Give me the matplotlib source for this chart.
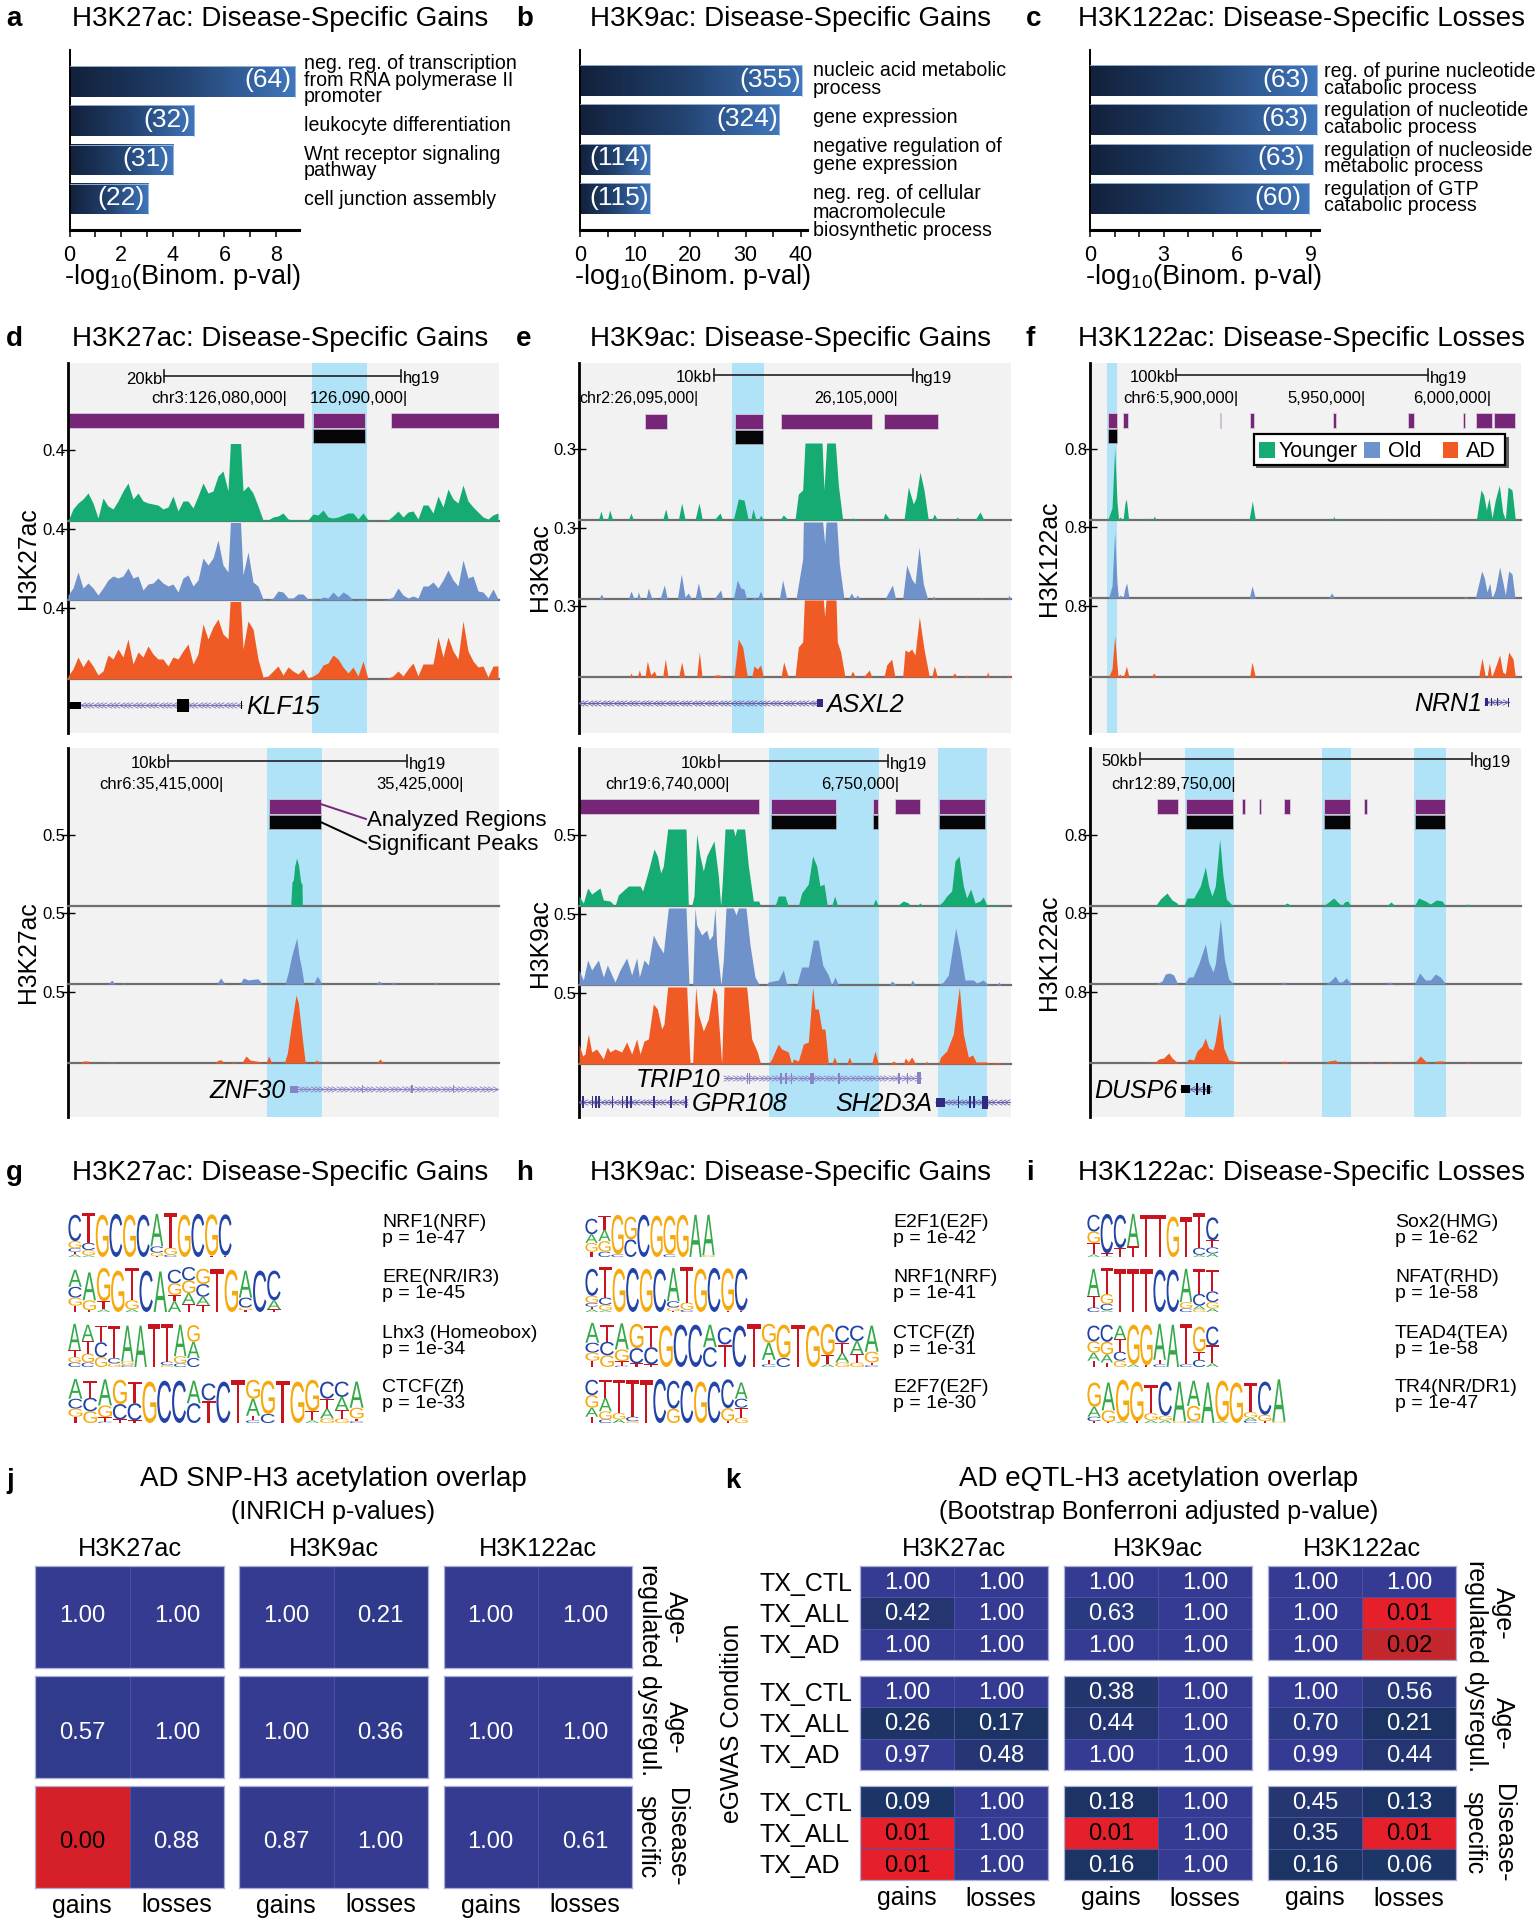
# -*- coding: utf-8 -*-
"""
Multi panel figure: GO bars, browser tracks, motif logos and overlap heatmaps.
Browser x positions are kept in track units (1 unit = 1/3 pixel).
"""
import numpy as np
import matplotlib
matplotlib.use("Agg")
import matplotlib.pyplot as plt
from matplotlib.colors import LinearSegmentedColormap, Normalize
from matplotlib.font_manager import FontProperties
from matplotlib.patches import Rectangle, PathPatch
from matplotlib.path import Path
from matplotlib.textpath import TextPath

plt.rcParams['font.family'] = ['Liberation Sans', 'DejaVu Sans']
plt.rcParams['mathtext.default'] = 'regular'

W, H = 1535, 1920

# --- panels a-c
a_vals = [8.73, 4.82, 4.0, 3.03]
a_counts = ['(64)', '(32)', '(31)', '(22)']
b_vals = [40.2, 36.1, 12.6, 12.6]
b_counts = ['(355)', '(324)', '(114)', '(115)']
c_vals = [9.25, 9.23, 9.07, 8.94]
c_counts = ['(63)', '(63)', '(63)', '(60)']
a_terms = [('neg. reg. of transcription\nfrom RNA polymerase II\npromoter', 79.5),
           ('leukocyte differentiation', 125), ('Wnt receptor signaling\npathway', 162),
           ('cell junction assembly', 199)]
b_terms = [('nucleic acid metabolic\nprocess', 79), ('gene expression', 117),
           ('negative regulation of\ngene expression', 155),
           ('neg. reg. of cellular\nmacromolecule\nbiosynthetic process', 211.5)]
c_terms = [('reg. of purine nucleotide\ncatabolic process', 79.5),
           ('regulation of nucleotide\ncatabolic process', 118.5),
           ('regulation of nucleoside\nmetabolic process', 158),
           ('regulation of GTP\ncatabolic process', 197)]

# --- panel d, top locus (one value every 15 track units from 204), tall values are clipped by the track
d1_green = [0, 12, 18, 22, 28, 18, 3, 23, 15, 12, 20, 30, 38, 22, 28, 20, 18, 17, 16, 12, 14, 25, 10, 20, 20, 13, 25,
            38, 28, 30, 45, 50, 30, 130, 130, 30, 35, 28, 15, 1, 1, 4, 5, 8, 2, 1, 1, 1, 1, 7, 6, 11, 4, 3, 4, 6, 8, 8,
            2, 8, 1, 0, 0, 0, 1, 5, 10, 4, 9, 10, 2, 16, 16, 8, 25, 14, 32, 22, 18, 36, 20, 14, 9, 4, 2, 6, 8]
d1_blue = [5, 12, 28, 12, 17, 12, 5, 12, 20, 24, 22, 24, 32, 22, 24, 10, 16, 17, 22, 17, 14, 16, 8, 22, 25, 14, 20,
           42, 35, 42, 60, 35, 28, 130, 130, 25, 48, 18, 14, 1, 0, 2, 9, 8, 2, 2, 6, 6, 1, 1, 0, 3, 2, 8, 3, 8, 5, 0,
           0, 1, 0, 0, 0, 0, 1, 3, 12, 5, 2, 4, 2, 14, 14, 18, 12, 20, 30, 20, 14, 40, 22, 24, 9, 8, 2, 11, 1]
d1_orange = [3, 10, 22, 12, 20, 13, 4, 8, 24, 20, 30, 22, 40, 15, 27, 22, 33, 25, 20, 20, 13, 22, 20, 28, 35, 15, 25,
             55, 40, 52, 60, 45, 40, 130, 130, 30, 58, 50, 20, 2, 3, 8, 13, 4, 12, 8, 5, 10, 1, 3, 6, 14, 16, 24, 20,
             12, 6, 12, 3, 18, 0, 0, 0, 0, 1, 3, 8, 3, 10, 16, 3, 15, 15, 15, 42, 22, 42, 28, 20, 58, 28, 18, 12, 13,
             2, 13, 13]

# --- panel d, bottom locus (position, height)
d2_green = [(872, 0), (876, 24), (880, 26), (884, 40), (890, 48), (896, 40), (902, 24), (906, 22), (907, 0)]
d2_blue = [(325, 0), (335, 4), (345, 0), (366, 0), (369, 1.5), (372, 0), (650, 0), (662, 6), (675, 0), (720, 0),
           (730, 6), (745, 4), (765, 5), (775, 5), (787, 0), (855, 0), (865, 12), (875, 28), (890, 46), (897, 28),
           (905, 15), (912, 0), (940, 0), (952, 8), (962, 2), (965, 0), (1127, 0), (1137, 3), (1147, 0), (1172, 0),
           (1180, 2), (1188, 0), (1300, 0), (1307, 2), (1314, 0)]
d2_orange = [(240, 0), (250, 2), (265, 2), (270, 0), (328, 0), (335, 1), (342, 0), (645, 0), (655, 3), (665, 3),
             (670, 0), (692, 0), (698, 2), (705, 0), (725, 0), (738, 7), (750, 3), (785, 1), (786, 0), (798, 0),
             (806, 7), (815, 0), (853, 0), (862, 10), (875, 40), (888, 68), (895, 60), (905, 30), (915, 2), (918, 0),
             (940, 0), (950, 3), (960, 0), (1130, 0), (1140, 4), (1150, 0)]

# --- panel e
e1_green = [(235, 0), (243, 9), (250, 0), (262, 0), (269, 10), (278, 0), (325, 0), (333, 7), (340, 0), (428, 0),
            (437, 11), (445, 0), (475, 0), (485, 17), (495, 1), (508, 0), (525, 0), (537, 17), (547, 0), (580, 0),
            (590, 3), (600, 7), (608, 0), (640, 0), (655, 21), (672, 20), (685, 0), (692, 0), (699, 11), (708, 0),
            (716, 0), (722, 5), (730, 0), (780, 0), (790, 5), (805, 0), (825, 0), (835, 26), (848, 30), (855, 77),
            (906, 77), (912, 30), (920, 77), (946, 77), (955, 35), (968, 0), (992, 0), (998, 2), (1015, 0), (1088, 0),
            (1095, 7), (1110, 0), (1152, 0), (1165, 33), (1180, 16), (1188, 22), (1200, 48), (1212, 30), (1225, 0),
            (1235, 0), (1243, 6), (1252, 0), (1305, 0), (1312, 3), (1318, 0), (1365, 0), (1380, 8), (1392, 0)]
e1_blue = [(237, 0), (244, 5), (252, 0), (325, 0), (333, 8), (340, 2), (350, 0), (355, 7), (362, 0), (378, 0),
           (385, 11), (395, 1), (408, 1), (420, 0), (433, 14), (442, 0), (472, 0), (484, 25), (495, 2), (505, 6),
           (515, 0), (525, 0), (535, 16), (546, 0), (582, 0), (602, 9), (608, 0), (640, 0), (652, 19), (662, 11),
           (672, 10), (680, 0), (696, 0), (702, 2), (712, 0), (722, 8), (730, 0), (778, 0), (788, 19), (800, 0),
           (828, 0), (848, 40), (850, 77), (908, 77), (914, 55), (918, 77), (950, 77), (958, 35), (972, 0), (985, 0),
           (994, 6), (1004, 0), (1012, 4), (1020, 0), (1095, 0), (1117, 14), (1127, 0), (1148, 0), (1160, 34),
           (1175, 20), (1185, 15), (1197, 52), (1210, 15), (1223, 0), (1235, 0), (1240, 3), (1246, 0), (1380, 0),
           (1384, 1), (1388, 0), (1462, 0), (1467, 4), (1472, 0)]
e1_orange = [(328, 0), (333, 4), (338, 0), (352, 0), (358, 7), (364, 0), (375, 0), (382, 16), (392, 2), (403, 6),
             (410, 0), (428, 0), (436, 18), (444, 0), (476, 0), (485, 15), (494, 0), (530, 0), (538, 25), (546, 0),
             (578, 0), (585, 2), (600, 2), (605, 0), (642, 0), (655, 38), (668, 30), (682, 0), (695, 0), (702, 11),
             (712, 8), (722, 12), (730, 0), (783, 0), (791, 15), (805, 0), (825, 0), (835, 30), (848, 35), (853, 77),
             (910, 77), (914, 60), (918, 77), (948, 77), (952, 35), (962, 25), (975, 0), (990, 0), (997, 6), (1006, 0),
             (1030, 0), (1048, 7), (1055, 0), (1092, 0), (1100, 12), (1115, 18), (1125, 0), (1148, 0), (1155, 27),
             (1165, 25), (1175, 28), (1185, 22), (1198, 60), (1212, 28), (1228, 0), (1235, 0), (1243, 11), (1252, 0),
             (1295, 0), (1303, 4), (1312, 0), (1335, 0), (1340, 2), (1346, 0), (1398, 0), (1403, 5), (1408, 0),
             (1458, 0), (1464, 2), (1470, 0)]
e2_green = [(177, 10), (190, 3), (203, 18), (215, 12), (240, 18), (250, 6), (270, 5), (285, 0), (295, 11), (325, 20),
            (360, 20), (368, 15), (385, 35), (402, 57), (412, 50), (422, 33), (430, 40), (443, 77), (498, 77), (505, 0),
            (515, 0), (522, 10), (530, 72), (540, 50), (550, 35), (560, 50), (582, 65), (595, 30), (602, 0), (607, 25),
            (615, 77), (640, 77), (645, 70), (650, 77), (674, 77), (685, 40), (700, 5), (716, 5), (722, 0), (765, 0),
            (775, 10), (795, 10), (805, 0), (835, 0), (845, 13), (865, 22), (878, 50), (890, 40), (900, 20), (912, 22),
            (922, 0), (935, 0), (944, 10), (953, 0), (1058, 0), (1066, 7), (1075, 0), (1130, 0), (1150, 5), (1165, 3),
            (1172, 0), (1190, 0), (1200, 3), (1208, 0), (1255, 0), (1270, 5), (1280, 10), (1295, 15), (1305, 45),
            (1317, 50), (1330, 20), (1340, 8), (1352, 17), (1365, 3), (1380, 5), (1390, 9), (1400, 1), (1440, 1),
            (1445, 0)]
e2_blue = [(177, 15), (190, 5), (203, 25), (215, 15), (235, 25), (250, 8), (262, 20), (285, 3), (300, 15), (320, 27),
           (335, 10), (350, 27), (358, 8), (372, 25), (385, 20), (400, 50), (415, 40), (430, 32), (445, 77), (498, 77),
           (507, 0), (518, 0), (525, 77), (530, 60), (545, 50), (560, 55), (568, 45), (578, 50), (585, 77), (590, 40),
           (603, 0), (610, 25), (618, 77), (640, 77), (648, 70), (655, 77), (678, 77), (690, 40), (705, 8), (718, 0),
           (738, 0), (745, 3), (775, 5), (790, 15), (800, 1), (830, 0), (845, 18), (865, 18), (880, 45), (895, 45),
           (908, 20), (925, 10), (935, 0), (945, 8), (955, 0), (1108, 0), (1115, 4), (1130, 0), (1170, 0), (1177, 5),
           (1185, 0), (1255, 0), (1270, 3), (1285, 10), (1307, 57), (1320, 35), (1335, 5), (1360, 5), (1370, 2),
           (1390, 5), (1405, 0), (1430, 0), (1437, 3), (1443, 0)]
e2_orange = [(177, 20), (188, 8), (195, 10), (205, 30), (215, 12), (230, 15), (250, 5), (262, 17), (270, 12), (285, 15),
             (305, 12), (320, 22), (335, 10), (350, 25), (360, 10), (372, 23), (385, 25), (400, 60), (412, 55),
             (425, 35), (432, 40), (443, 77), (500, 77), (510, 2), (518, 0), (527, 77), (535, 50), (550, 33), (565, 45),
             (580, 77), (590, 70), (605, 0), (612, 77), (680, 77), (695, 25), (712, 12), (722, 0), (745, 0), (755, 5),
             (775, 20), (785, 15), (805, 12), (815, 0), (820, 5), (835, 3), (850, 20), (865, 22), (878, 77), (885, 55),
             (895, 55), (905, 35), (915, 35), (925, 0), (935, 0), (943, 7), (952, 0), (980, 0), (988, 7), (996, 0),
             (1055, 0), (1065, 13), (1075, 0), (1110, 0), (1120, 3), (1135, 0), (1150, 0), (1156, 6), (1165, 2),
             (1175, 7), (1187, 0), (1215, 0), (1220, 3), (1225, 0), (1255, 0), (1262, 7), (1280, 13), (1300, 30),
             (1318, 77), (1330, 30), (1345, 7), (1358, 9), (1368, 2), (1400, 2), (1410, 0), (1425, 1), (1440, 1),
             (1445, 0)]

# --- panel f
f1_green = [(262, 0), (275, 12), (283, 72), (290, 18), (295, 0), (298, 3), (308, 0), (314, 17), (318, 21), (325, 0),
            (370, 0), (375, 2), (380, 0), (397, 0), (402, 4), (407, 0), (648, 0), (651, 2), (654, 0), (686, 0),
            (696, 19), (705, 0), (925, 0), (928, 1), (932, 0), (937, 0), (940, 4), (944, 0), (965, 0), (968, 2),
            (971, 0), (1090, 0), (1093, 2), (1096, 0), (1238, 0), (1241, 2), (1244, 0), (1368, 0), (1382, 30),
            (1390, 25), (1398, 10), (1406, 22), (1415, 2), (1425, 20), (1437, 35), (1447, 8), (1455, 0), (1463, 33),
            (1475, 30), (1485, 0)]
f1_blue = [(265, 0), (275, 12), (283, 66), (290, 15), (294, 0), (300, 3), (308, 0), (314, 10), (319, 15), (326, 0),
           (687, 0), (695, 12), (705, 0), (925, 0), (934, 5), (943, 0), (1330, 0), (1336, 2), (1342, 0), (1365, 0),
           (1384, 27), (1392, 20), (1400, 6), (1408, 15), (1415, 0), (1425, 8), (1438, 31), (1448, 15), (1455, 3),
           (1465, 27), (1475, 24), (1484, 0)]
f1_orange = [(265, 0), (275, 8), (283, 41), (290, 12), (293, 0), (298, 3), (306, 0), (312, 3), (318, 11), (326, 0),
             (393, 0), (400, 4), (408, 0), (688, 0), (695, 15), (705, 0), (1375, 0), (1385, 19), (1395, 0), (1400, 0),
             (1407, 14), (1414, 0), (1422, 7), (1438, 22), (1447, 5), (1455, 3), (1465, 25), (1478, 18), (1485, 0)]
f2_green = [(405, 0), (420, 7), (440, 13), (455, 6), (470, 3), (475, 0), (490, 0), (500, 8), (520, 8), (540, 20),
            (555, 39), (565, 20), (575, 10), (585, 20), (598, 67), (608, 30), (618, 7), (638, 0), (785, 0), (800, 3),
            (815, 0), (908, 0), (925, 4), (940, 8), (955, 3), (965, 0), (972, 4), (982, 5), (992, 0), (1098, 0),
            (1112, 4), (1125, 0), (1182, 0), (1195, 8), (1215, 5), (1230, 2), (1248, 6), (1265, 5), (1276, 0),
            (1330, 0), (1340, 2), (1350, 0)]
f2_blue = [(408, 0), (425, 3), (435, 10), (448, 11), (460, 9), (472, 0), (492, 0), (505, 7), (518, 7), (535, 20),
           (555, 40), (565, 22), (578, 12), (585, 20), (600, 65), (612, 25), (625, 5), (640, 0), (782, 0), (790, 2),
           (800, 0), (915, 0), (930, 3), (945, 8), (955, 2), (965, 2), (978, 6), (992, 0), (1098, 0), (1108, 2),
           (1120, 0), (1182, 0), (1198, 11), (1215, 4), (1230, 4), (1245, 10), (1260, 7), (1276, 0)]
f2_orange = [(380, 0), (405, 1), (415, 4), (430, 5), (445, 10), (455, 5), (470, 1), (473, 0), (495, 0), (505, 4),
             (520, 3), (530, 12), (545, 17), (555, 25), (565, 15), (578, 13), (585, 22), (598, 50), (610, 15),
             (625, 3), (640, 2), (665, 0), (780, 0), (792, 2), (805, 0), (912, 0), (925, 2), (945, 3), (955, 0),
             (975, 0), (978, 1), (982, 0), (1005, 0), (1008, 1), (1012, 0), (1040, 0), (1050, 1), (1060, 0), (1095, 0),
             (1110, 1), (1120, 0), (1182, 0), (1200, 7), (1215, 2), (1228, 0), (1240, 0), (1250, 2), (1268, 2),
             (1272, 0), (1330, 0), (1340, 1), (1348, 0)]

# --- regions shown above the tracks
d1_regions = [(204, 913), (940, 1095), (1172, 1496)]
d1_peaks = [(940, 1095)]
d2_regions = [(807, 962)]
d2_peaks = [(807, 962)]
e1_regions = [(376, 440), (645, 729), (783, 1055), (1092, 1255)]
e1_peaks = [(645, 729)]
e2_regions = [(177, 718), (752, 948), (1059, 1073), (1126, 1201), (1257, 1395)]
e2_peaks = [(752, 948), (1059, 1073), (1257, 1395)]
f1_regions = [(264, 289), (309, 323), (598, 603), (688, 702), (938, 946), (1164, 1180), (1327, 1333), (1366, 1414),
              (1420, 1484)]
f1_peaks = [(264, 289)]
f2_regions = [(411, 474), (497, 639), (665, 673), (715, 722), (790, 808), (910, 989), (1032, 1040), (1185, 1274)]
f2_peaks = [(497, 639), (910, 989), (1185, 1274)]

# --- motif logos: each position lists letters from the top of the stack down
NRF1 = ['C60 G16 C8 T6 A6', 'T68 C16 G12 A4', 'G96', 'C98', 'G96', 'C96', 'A74 C14 G8 T2', 'T78 G16 C5', 'G96', 'C98',
        'G94 T3', 'C94 T3']
ERE = ['A38 C24 G18 T14', 'A62 G22 T4', 'G74 T18 A6', 'G92', 'T72 G20 A6', 'C92', 'A90', 'C30 G26 T14 A24',
       'C30 G28 A24 T18', 'G34 C28 A18 T16', 'T96', 'G94', 'A60 C22 G6 T4', 'C92', 'C66 A20 T6']
LHX3 = ['A58 T16 G12 C10', 'A36 T28 G20 C10', 'T37 C33 G22', 'T72 C12 G8', 'A80 G8 C4', 'A92', 'T96', 'T84 C8 G4',
        'A70 G16 C8', 'G37 A36 C20']
CTCF = ['A44 C22 G18 T14', 'T38 C30 G26', 'A58 G26 T10 C3', 'G54 C34 T8', 'T48 C38 T6', 'G92', 'C94', 'C94', 'A50 C44',
        'C38 T50', 'C92', 'T96', 'G42 A38 T10 C6', 'G74 C20', 'T94', 'G92', 'G70 T20 A6', 'C38 T22 A22 G10',
        'C34 A30 T18 G10', 'A58 G24 T6 C4']
E2F1 = ['C35 A20 G20 T12', 'T32 A26 G24 C12', 'G90 C6', 'G52 C40', 'C96', 'G94', 'G88 C6', 'G96', 'A96', 'A92 G4']
E2F7 = ['C34 G28 A20 T14', 'T40 A30 G18 C8', 'T74 G14 A8', 'T82 C10 G4', 'T96', 'C98', 'C62 G32', 'C94', 'G92', 'C92',
        'C64 G28 T5', 'A36 C20 T22 G12']
SOX2 = ['C38 G26 T26 A6', 'C90 T6 A2', 'C76 T20', 'A74 T24', 'T96', 'T96', 'G92', 'T90', 'T78 C16 A5',
        'C52 T16 C14 A8']
NFAT = ['A60 T26 C10', 'T58 G22 C14 A4', 'T96', 'T96', 'T96', 'C94', 'C94', 'A74 G14 C8', 'T56 C26 A8 G6',
        'T48 C24 G14 A8']
TEAD4 = ['C35 G25 A18 T14', 'C38 G28 A18 T10', 'A30 T28 C20 G14', 'G88 A6', 'G90 T4', 'A80 T10 C6', 'A94', 'T90 C6',
         'G56 T18 C16', 'C42 T40 A8']
TR4 = ['G54 A22 C10 T4', 'A62 G26 T2', 'G92 A4', 'G88 T4', 'T62 G16 A6', 'C76 G10 A6', 'A88 G4', 'A56 G34 C4', 'A90',
       'G90 A4', 'G90', 'T66 G12 A6 C6', 'C74 G14 T4', 'A94 G3']

g_names = ['NRF1(NRF)', 'ERE(NR/IR3)', 'Lhx3 (Homeobox)', 'CTCF(Zf)']
g_pvals = ['p = 1e-47', 'p = 1e-45', 'p = 1e-34', 'p = 1e-33']
h_names = ['E2F1(E2F)', 'NRF1(NRF)', 'CTCF(Zf)', 'E2F7(E2F)']
h_pvals = ['p = 1e-42', 'p = 1e-41', 'p = 1e-31', 'p = 1e-30']
i_names = ['Sox2(HMG)', 'NFAT(RHD)', 'TEAD4(TEA)', 'TR4(NR/DR1)']
i_pvals = ['p = 1e-62', 'p = 1e-58', 'p = 1e-58', 'p = 1e-47']

# --- heatmaps, rows are the three gene sets, then one block per mark
marks = ['H3K27ac', 'H3K9ac', 'H3K122ac']
conditions = ['TX_CTL', 'TX_ALL', 'TX_AD']
sets = ['Age-\nregulated', 'Age-\ndysregul.', 'Disease-\nspecific']
j_age_reg = [[[1.00, 1.00]], [[1.00, 0.21]], [[1.00, 1.00]]]
j_age_dys = [[[0.57, 1.00]], [[1.00, 0.36]], [[1.00, 1.00]]]
j_disease = [[[0.00, 0.88]], [[0.87, 1.00]], [[1.00, 0.61]]]
k_age_reg = [[[1.00, 1.00], [0.42, 1.00], [1.00, 1.00]],
             [[1.00, 1.00], [0.63, 1.00], [1.00, 1.00]],
             [[1.00, 1.00], [1.00, 0.01], [1.00, 0.02]]]
k_age_dys = [[[1.00, 1.00], [0.26, 0.17], [0.97, 0.48]],
             [[0.38, 1.00], [0.44, 1.00], [1.00, 1.00]],
             [[1.00, 0.56], [0.70, 0.21], [0.99, 0.44]]]
k_disease = [[[0.09, 1.00], [0.01, 1.00], [0.01, 1.00]],
             [[0.18, 1.00], [0.01, 1.00], [0.16, 1.00]],
             [[0.45, 0.13], [0.35, 0.01], [0.16, 0.06]]]

GREEN, BLUE, ORANGE = '#15ab72', '#7092ca', '#f05a24'
LETTERS = {'A': '#35a94a', 'C': '#2244a8', 'G': '#f5a90c', 'T': '#c8141e'}
bar_map = LinearSegmentedColormap.from_list('bar', ['#12213c', '#22426f', '#4076bc'])
j_map = LinearSegmentedColormap.from_list('j', [(0, '#d62029'), (0.02, '#2d3a88'), (1, '#353b90')], N=1024)
k_map = LinearSegmentedColormap.from_list('k', [(0, '#e5202a'), (0.012, '#e5202a'), (0.02, '#c1272d'), (0.05, '#1c3668'),
                                                (0.2, '#1c3363'), (0.42, '#24356f'), (0.63, '#2a3a80'),
                                                (1, '#353b92')], N=1024)

fig = plt.figure(figsize=(W / 100, H / 100), dpi=100, facecolor='white')


def axpx(x0, y0, x1, y1):
    return fig.add_axes([x0 / W, 1 - y1 / H, (x1 - x0) / W, (y1 - y0) / H])


def hbars(x0, x_end, upx, vals, counts, shift, major, minor, centers):
    y0, y1 = 50, 230
    ax = axpx(x0, y0, x_end, y1)
    pitch = (centers[-1] - centers[0]) / 3
    for i, v in enumerate(vals):
        ax.imshow([np.linspace(0, 1, 64)], cmap=bar_map, aspect='auto', extent=(0, v, i + 0.39, i - 0.39), zorder=2)
        ax.plot([0, v, v], [i - 0.39, i - 0.39, i + 0.39], color='#a8c0e4', lw=0.6, zorder=3)
        ax.annotate(counts[i], (v, i), xytext=(shift, 1), textcoords='offset pixels', ha='right', va='center',
                    color='white', fontsize=19, zorder=4)
    ax.set_xlim(0, (x_end - x0) / upx)
    ax.set_ylim((y1 - centers[0]) / pitch, (y0 - centers[0]) / pitch)
    for s in ['top', 'right']:
        ax.spines[s].set_visible(False)
    ax.spines['left'].set_linewidth(1.4)
    ax.spines['bottom'].set_linewidth(2.2)
    ax.set_yticks([])
    ax.set_xticks(major)
    ax.set_xticks(minor, minor=True)
    ax.tick_params(axis='x', which='both', length=5, width=1.1, labelsize=15.5, pad=6)
    ax.patch.set_alpha(0)
    return ax


def logo(x0, y0, x1, y1, stacks):
    ax = axpx(x0, y0, x1, y1)
    ax.set_xlim(0, len(stacks))
    ax.set_ylim(0, 100)
    ax.axis('off')
    fp = FontProperties(family='Liberation Sans')
    for i, stack in enumerate(stacks):
        base = 0
        for item in reversed(stack.split()):
            ch, h = item[0], float(item[1:])
            tp = TextPath((0, 0), ch, size=1, prop=fp)
            bb = tp.get_extents()
            v = tp.vertices.copy()
            v[:, 0] = i + 0.03 + (v[:, 0] - bb.x0) / bb.width * 0.94
            v[:, 1] = base + (v[:, 1] - bb.y0) / bb.height * h
            ax.add_patch(PathPatch(Path(v, tp.codes), fc=LETTERS[ch], lw=0))
            base += h


def browser(x0, x1, y0, y1, xlim, bands, regions, peaks, region_y, bases, tracks, tick):
    bg = axpx(x0, y0, x1, y1)
    bg.set_xlim(*xlim)
    bg.set_ylim(y1, y0)
    bg.set_facecolor('#f2f2f2')
    for s in ['top', 'right', 'bottom']:
        bg.spines[s].set_visible(False)
    bg.spines['left'].set_linewidth(2)
    bg.set_xticks([])
    bg.set_yticks([])
    for a, b in bands:
        bg.axvspan(a, b, color='#b0e3f8', lw=0)
    for a, b in regions:
        bg.add_patch(Rectangle((a, region_y), b - a, 15, fc='#772577', ec='#d8c8dc', lw=0.6))
    for a, b in peaks:
        bg.add_patch(Rectangle((a, region_y + 16), b - a, 14, fc='#050508', ec='#a0a8b0', lw=0.6))
    for base, sig, col in zip(bases, tracks, [GREEN, BLUE, ORANGE]):
        ax = axpx(x0, base - 77, x1, base)
        ax.patch.set_alpha(0)
        if isinstance(sig[0], tuple):
            xs, ys = zip(*sig)
        else:
            xs, ys = xlim[0] + 15 * np.arange(len(sig)), sig
        ax.fill_between(xs, ys, 0, color=col, lw=0, zorder=2)
        ax.axhline(0, color='#6e6e6e', lw=1.6, clip_on=False, zorder=1)
        ax.set_xlim(*xlim)
        ax.set_ylim(0, 77)
        for s in ax.spines.values():
            s.set_visible(False)
        ax.set_xticks([])
        ax.set_yticks([71])
        ax.set_yticklabels([tick], fontsize=12)
        ax.tick_params(axis='y', direction='inout', length=10, width=1, pad=-3)
    return bg


def scale(ax, y, label, x0, x1, coord_y, coords, size=12.2):
    ax.plot([x0, x1], [y, y], color='#202020', lw=1.2, zorder=3)
    for x in (x0, x1):
        ax.plot([x, x], [y - 6, y + 6], color='#202020', lw=1.2, zorder=3)
    ax.text(x0 - 5, y + 3, label, ha='right', va='center', fontsize=12, zorder=3)
    ax.text(x1 + 6, y + 3, 'hg19', ha='left', va='center', fontsize=12, zorder=3)
    for s, x in coords:
        ax.text(x, coord_y + 2, s, ha='right', va='center', fontsize=size, zorder=3)


def gene(ax, y, a, b, col, mark, exons, name, name_x, ha):
    ax.plot([a, b], [y, y], color=col, lw=0.8, zorder=3)
    chevron = Path([(-1, 1), (1, 0), (-1, -1)], [Path.MOVETO, Path.LINETO, Path.LINETO])
    if mark == '<':
        chevron = Path([(1, 1), (-1, 0), (1, -1)], [Path.MOVETO, Path.LINETO, Path.LINETO])
    ticks = np.arange(a + 6, b - 2, 13)
    ax.plot(ticks, [y] * len(ticks), ls='', marker=chevron, ms=4, mfc='none', mec=col, mew=0.6, zorder=3)
    for e0, e1, h, c in exons:
        ax.add_patch(Rectangle((e0, y - h / 2), e1 - e0, h, fc=c, lw=0, zorder=4))
    if name:
        ax.text(name_x, y + 2, name, ha=ha, va='center', style='italic', fontsize=18, zorder=4)


def heat(x0, x1, y0, y1, vals, cmap, dy, size=17.2):
    ax = axpx(x0, y0, x1, y1)
    v = np.array(vals)
    ax.pcolormesh(v, cmap=cmap, norm=Normalize(0, 1), edgecolors='#4c52a2', linewidth=0.4)
    ax.invert_yaxis()
    ax.set_xticks([])
    ax.set_yticks([])
    for s in ax.spines.values():
        s.set_color('#aab0dc')
        s.set_linewidth(0.9)
    for r in range(v.shape[0]):
        for c in range(v.shape[1]):
            col = 'black' if v[r, c] < 0.05 else 'white'
            ax.annotate('%.2f' % v[r, c], (c + 0.5, r + 0.5), xytext=(0, -dy), textcoords='offset pixels',
                        ha='center', va='center', color=col, fontsize=size)


# --- a-c
ax_a = hbars(69.6, 299, 25.8, a_vals, a_counts, -3, [0, 2, 4, 6, 8], [1, 3, 5, 7], [81.5, 120.5, 159.5, 199])
ax_b = hbars(580, 807, 5.52, b_vals, b_counts, -1, [0, 10, 20, 30, 40], [5, 15, 25, 35], [80.5, 119.5, 159, 198.5])
ax_c = hbars(1090, 1319, 24.55, c_vals, c_counts, -8, [0, 3, 6, 9], [1, 2, 4, 5, 7, 8], [80.5, 119, 159, 198.5])

# --- d-f
d1 = browser(68, 499, 363, 733, (204, 1497), [(935, 1101)], d1_regions, d1_peaks, 413, [521, 600, 679],
             [d1_green, d1_blue, d1_orange], '0.4')
scale(d1, 376, '20kb', 492, 1202, 397, [('chr3:126,080,000|', 862), ('126,090,000|', 1224)])
gene(d1, 705, 242, 725, '#7a76b8', '<', [(204, 242, 7, '#000000'), (530, 567, 13, '#000000'), (723, 725, 8, '#000000')],
     'KLF15', 738, 'left')
d2 = browser(68, 499, 748, 1117, (204, 1497), [(801, 965)], d2_regions, d2_peaks, 799, [906, 984, 1063],
             [d2_green, d2_blue, d2_orange], '0.5')
scale(d2, 761, '10kb', 505, 1222, 782, [('chr6:35,415,000|', 672), ('35,425,000|', 1392)], size=12)
gene(d2, 1089, 893, 1493, '#8a82c4', '>',
     [(870, 893, 7, '#8a82c4'), (1086, 1090, 8, '#8a82c4'), (1234, 1240, 8, '#8a82c4'), (1358, 1362, 8, '#8a82c4')],
     'ZNF30', 858, 'right')
d2.plot([962, 1098], [804, 819], color='#772577', lw=1.4, zorder=5)
d2.plot([962, 1098], [822, 843], color='black', lw=1.4, zorder=5)

e1 = browser(579, 1011, 363, 733, (177, 1473), [(636, 731)], e1_regions, e1_peaks, 414, [520, 599, 677],
             [e1_green, e1_blue, e1_orange], '0.3')
scale(e1, 375, '10kb', 582, 1178, 396, [('chr2:26,095,000|', 535), ('26,105,000|', 1133)], size=11.5)
gene(e1, 703, 177, 890, '#6660a8', '<', [(890, 908, 8, '#2e2a7e')], 'ASXL2', 920, 'left')
e2 = browser(579, 1011, 748, 1117, (177, 1473), [(747, 1076), (1254, 1400)], e2_regions, e2_peaks, 799,
             [906, 985, 1064], [e2_green, e2_blue, e2_orange], '0.5')
scale(e2, 761, '10kb', 596, 1105, 782, [('chr19:6,740,000|', 628), ('6,750,000|', 1138)], size=12)
trip10_exons = [(a, a + 5, 11, '#8a82c4') for a in [680, 686, 780, 795, 812, 870, 876, 955, 1135, 1160]]
gene(e2, 1078, 612, 1203, '#8a82c4', '>', trip10_exons + [(1190, 1203, 12, '#8a82c4')], 'TRIP10', 600, 'right')
gpr108_exons = [(a, a + 5, 12, '#3a3588') for a in [187, 215, 225, 235, 275, 305, 318, 330, 400, 450, 495]]
gene(e2, 1102, 177, 500, '#6660a8', '<', gpr108_exons, 'GPR108', 515, 'left')
sh2d3a_exons = [(1248, 1275, 9, '#2e2a7e'), (1313, 1318, 12, '#2e2a7e'), (1348, 1353, 12, '#2e2a7e'),
                (1360, 1364, 12, '#2e2a7e'), (1385, 1405, 13, '#2e2a7e')]
gene(e2, 1102, 1248, 1473, '#6660a8', '<', sh2d3a_exons, 'SH2D3A', 1238, 'right')

f1 = browser(1090, 1521, 363, 733, (209, 1502), [(261, 291)], f1_regions, f1_peaks, 413, [520, 598, 677],
             [f1_green, f1_blue, f1_orange], '0.8')
scale(f1, 375, '100kb', 468, 1222, 396, [('chr6:5,900,000|', 656), ('5,950,000|', 1035), ('6,000,000|', 1413)], size=12)
gene(f1, 702, 1395, 1465, '#6660a8', '>', [(1395, 1402, 8, '#2e2a7e'), (1413, 1416, 8, '#2e2a7e'),
                                           (1430, 1433, 8, '#2e2a7e'), (1463, 1466, 9, '#2e2a7e')], 'NRN1', 1385,
     'right')
f1.add_patch(Rectangle((708, 437), 757, 31, fc='#606060', lw=0, zorder=6))
f1.add_patch(Rectangle((700, 434), 755, 31, fc='white', ec='black', lw=1.6, zorder=6))
for sx, nm, tx, col in [(717, 'Younger', 775, GREEN), (1032, 'Old', 1102, BLUE), (1267, 'AD', 1338, ORANGE)]:
    f1.add_patch(Rectangle((sx, 442), 46, 16, fc=col, lw=0, zorder=7))
    f1.text(tx, 451.5, nm, ha='left', va='center', fontsize=15.5, zorder=7)
f2 = browser(1090, 1521, 748, 1117, (209, 1502), [(493, 641), (906, 992), (1181, 1276)], f2_regions, f2_peaks, 799,
             [906, 984, 1063], [f2_green, f2_blue, f2_orange], '0.8')
scale(f2, 759, '50kb', 358, 1355, 782, [('chr12:89,750,00|', 648)], size=12)
gene(f2, 1089, 482, 570, '#6660a8', '<', [(482, 510, 8, '#000000'), (528, 534, 12, '#000000'),
                                          (548, 554, 12, '#000000'), (560, 570, 9, '#000000')], 'DUSP6', 470, 'right')

# --- g-i
g_rows = [(1213, 1257), (1267, 1312), (1322, 1367), (1378, 1423)]
text_rows = [1229.5, 1284.5, 1340.5, 1394.5]
logo(68, g_rows[0][0], 232, g_rows[0][1], NRF1)
logo(68, g_rows[1][0], 281, g_rows[1][1], ERE)
logo(68, g_rows[2][0], 200, g_rows[2][1], LHX3)
logo(68, g_rows[3][0], 364, g_rows[3][1], CTCF)
logo(585, g_rows[0][0], 715, g_rows[0][1], E2F1)
logo(585, g_rows[1][0], 748, g_rows[1][1], NRF1)
logo(585, g_rows[2][0], 879, g_rows[2][1], CTCF)
logo(585, g_rows[3][0], 748, g_rows[3][1], E2F7)
logo(1087, g_rows[0][0], 1219, g_rows[0][1], SOX2)
logo(1087, g_rows[1][0], 1219, g_rows[1][1], NFAT)
logo(1087, g_rows[2][0], 1219, g_rows[2][1], TEAD4)
logo(1087, g_rows[3][0], 1286, g_rows[3][1], TR4)

# --- j-k
j_cols = [(35, 224), (239, 428), (443.5, 632)]
j_rows = [(1566, 1668), (1676, 1778), (1786, 1888)]
j_shift = [-1, 6, 5]
k_cols = [(860, 1048), (1064, 1252), (1268, 1456)]
k_rows = [(1566, 1660), (1676, 1770), (1786, 1880)]
for r, block in enumerate([j_age_reg, j_age_dys, j_disease]):
    for c in range(3):
        heat(j_cols[c][0], j_cols[c][1], j_rows[r][0], j_rows[r][1], block[c], j_map, j_shift[r])
for r, block in enumerate([k_age_reg, k_age_dys, k_disease]):
    for c in range(3):
        heat(k_cols[c][0], k_cols[c][1], k_rows[r][0], k_rows[r][1], block[c], k_map, 1.5)

# --- page level text, in pixels
page = fig.add_axes([0, 0, 1, 1], zorder=20)
page.set_xlim(0, W)
page.set_ylim(H, 0)
page.axis('off')
page.patch.set_alpha(0)


def put(x, y, s, size, **kw):
    kw.setdefault('ha', 'left')
    kw.setdefault('va', 'center')
    if kw.get('rotation') == 90:
        x += 1
    elif kw.get('rotation') is None:
        y += 2.5
    page.text(x, y, s, fontsize=size, **kw)


titles = ['H3K27ac: Disease-Specific Gains', 'H3K9ac: Disease-Specific Gains', 'H3K122ac: Disease-Specific Losses']
for row_y, letters in [(16, 'abc'), (337, 'def'), (1170, 'ghi')]:
    for lx, tx, ch, ttl in zip([6, 516, 1026], [72, 590, 1078], letters, titles):
        put(tx, row_y, ttl, 20)
        put(lx, row_y, ch, 20, weight='bold')

xlab = '-log$_{10}$(Binom. p-val)'
for cx in [182, 692, 1203]:
    put(cx, 275, xlab, 19.5, ha='center')
for x, terms, spacing in [(303.5, a_terms, 0.86), (813, b_terms, 0.96), (1324, c_terms, 0.85)]:
    for s, y in terms:
        put(x, y - 2, s, 14.1, linespacing=spacing)

for x, y, s in [(27, 558, 'H3K27ac'), (27, 952, 'H3K27ac'), (539, 567, 'H3K9ac'), (539, 943, 'H3K9ac'),
                (1048, 558, 'H3K122ac'), (1048, 952, 'H3K122ac')]:
    put(x, y, s, 17.8, rotation=90, ha='center')
put(367, 818, 'Analyzed Regions', 16)
put(367, 842, 'Significant Peaks', 16)

for x, names, pvals in [(382, g_names, g_pvals), (893, h_names, h_pvals), (1395, i_names, i_pvals)]:
    for y, nm, p in zip(text_rows, names, pvals):
        put(x, y - 1.5, nm + '\n' + p, 14, linespacing=0.92)

put(6, 1478, 'j', 20, weight='bold')
put(725, 1478, 'k', 20, weight='bold')
put(333, 1476, 'AD SNP-H3 acetylation overlap', 20, ha='center')
put(333, 1509, '(INRICH p-values)', 18, ha='center')
put(1159, 1476, 'AD eQTL-H3 acetylation overlap', 20, ha='center')
put(1159, 1509, '(Bootstrap Bonferroni adjusted p-value)', 18.1, ha='center')
for cols, label_y in [(j_cols, 1903), (k_cols, 1896)]:
    for (x0, x1), m in zip(cols, marks):
        put((x0 + x1) / 2, 1547, m, 18.2, ha='center')
        put(x0 + (x1 - x0) / 4, label_y, 'gains', 18, ha='center')
        put(x0 + 3 * (x1 - x0) / 4, label_y, 'losses', 18, ha='center')
for (y0, y1), s in zip(j_rows, sets):
    put(662, (y0 + y1) / 2, s, 18, rotation=-90, ha='center', linespacing=1.25, multialignment='center')
for (y0, y1), s in zip(k_rows, sets):
    put(1489, (y0 + y1) / 2, s, 18, rotation=-90, ha='center', linespacing=1.25, multialignment='center')
    for i, cond in enumerate(conditions):
        put(759, y0 + (y1 - y0) * (i + 0.5) / 3 - 0.5, cond, 18)
put(731, 1723, 'eGWAS Condition', 17.8, rotation=90, ha='center')

fig.savefig('out.png', dpi=100)
